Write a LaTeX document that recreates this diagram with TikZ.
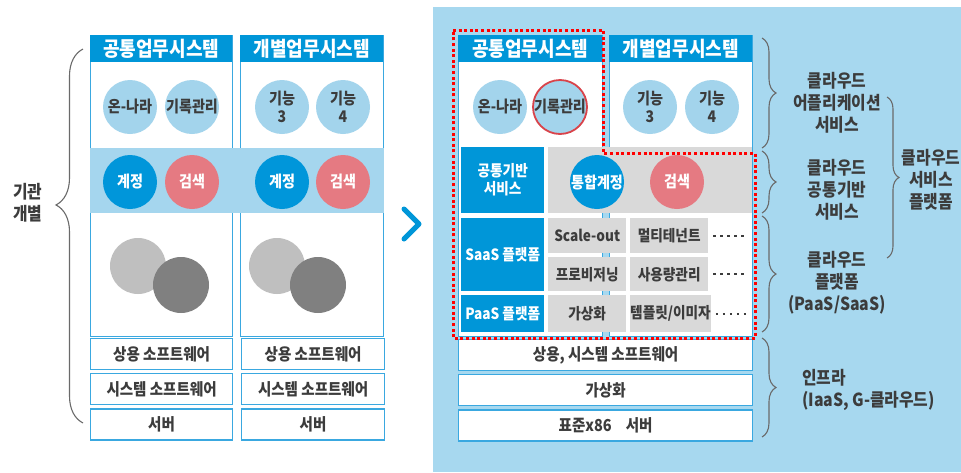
\documentclass[tikz,border=0pt]{standalone}
\usepackage{fontspec}
\setmainfont{Noto Sans CJK KR}[FakeStretch=0.88]
\usepackage{xcolor}
\usepackage{tikz}
\usetikzlibrary{positioning,calc,decorations.pathreplacing}

\definecolor{hdrblue}{HTML}{0096D8}
\definecolor{lineblue}{HTML}{3AA8E0}
\definecolor{paleblue}{HTML}{A5D6EE}
\definecolor{bgblue}{HTML}{A7D8EF}
\definecolor{circblue}{HTML}{A3D4EC}
\definecolor{accblue}{HTML}{0096DA}
\definecolor{pinkred}{HTML}{E57A82}
\definecolor{cellgray}{HTML}{D9D9D9}
\definecolor{txtgray}{HTML}{3C3C3C}
\definecolor{lgray}{HTML}{BFBFBF}
\definecolor{dgray}{HTML}{808080}
\definecolor{bracegray}{HTML}{6A6A6A}
\definecolor{ringred}{HTML}{D9434A}

\newcommand\hdrfont{\bfseries\fontsize{20.5}{22}\selectfont}
\newcommand\cfont{\bfseries\fontsize{16}{18}\selectfont}
\newcommand\rfont{\bfseries\fontsize{16.5}{18}\selectfont}
\newcommand\cellfont{\bfseries\fontsize{15.5}{18}\selectfont}
\newcommand\lblfont{\bfseries\fontsize{18}{22}\selectfont}

\begin{document}
\begin{tikzpicture}[
    x=1pt, y=-1pt,
    node distance=3pt,
    col/.style={rectangle, draw=lineblue, line width=1.2pt, fill=white, anchor=north west, inner sep=0pt, minimum height=301},
    hdr/.style={rectangle, fill=hdrblue, text=white, anchor=north west, inner sep=0pt, minimum height=27, font=\hdrfont},
    func/.style={circle, fill=circblue, minimum size=54, inner sep=0pt, text=txtgray, font=\cfont, align=center},
    acc/.style={func, fill=accblue, text=white},
    srch/.style={func, fill=pinkred, text=white},
    row/.style={rectangle, draw=lineblue, line width=1.2pt, fill=white, anchor=north west, minimum height=31, inner sep=0pt, text=txtgray, font=\rfont},
    bbox/.style={rectangle, fill=hdrblue, text=white, anchor=north west, minimum width=83, inner sep=0pt, font=\cellfont, align=center},
    gcell/.style={rectangle, fill=cellgray, text=txtgray, anchor=north west, minimum width=78, inner sep=0pt, font=\cellfont},
    lbl/.style={text=txtgray, font=\lblfont, align=center, inner sep=0pt},
    brace/.style={decorate, draw=bracegray, line width=1.1pt},
    dotline/.style={draw=txtgray, line width=2.4pt, dash pattern=on 2.4pt off 4.6pt},
    reddot/.style={draw=red, line width=3pt, dash pattern=on 3pt off 2.6pt}
]
    \useasboundingbox (0,0) rectangle (961,472);

    \node[col, minimum width=142] (colA) at (90,35) {};
    \node[col, minimum width=143] (colB) at (240,35) {};
    \node[hdr, minimum width=142] (hdrA) at (90,35) {공통업무시스템};
    \node[hdr, minimum width=143] (hdrB) at (240,35) {개별업무시스템};
    \node[rectangle, fill=paleblue, anchor=north west, inner sep=0pt, minimum width=294, minimum height=65] (bandL) at (90,148) {};

    \node[func] (onnaraA) at (130,107) {온-나라};
    \node[func] (recA) at (192,107) {기록관리};
    \node[func] (fn3A) at (282,107) {기능\\3};
    \node[func] (fn4A) at (343,107) {기능\\4};
    \node[acc] (accA) at (130,182) {계정};
    \node[srch] (srchA) at (192,182) {검색};
    \node[acc] (accB) at (282,182) {계정};
    \node[srch] (srchB) at (343,182) {검색};

    \node[circle, fill=lgray, minimum size=56, inner sep=0pt] (lgA) at (138,266) {};
    \node[circle, fill=dgray, minimum size=56, inner sep=0pt] (dgA) at (181,285) {};
    \node[circle, fill=lgray, minimum size=56, inner sep=0pt] (lgB) at (277,266) {};
    \node[circle, fill=dgray, minimum size=56, inner sep=0pt] (dgB) at (318,285) {};

    \node[row, minimum width=142] (swA) at (90,338) {상용 소프트웨어};
    \node[row, minimum width=142, below=of swA] (sysA) {시스템 소프트웨어};
    \node[row, minimum width=142, below=of sysA] (srvA) {서버};
    \node[row, minimum width=143] (swB) at (241,338) {상용 소프트웨어};
    \node[row, minimum width=143, below=of swB] (sysB) {시스템 소프트웨어};
    \node[row, minimum width=143, below=of sysB] (srvB) {서버};

    \coordinate (orgTop) at (83,49);
    \coordinate (orgBot) at (83,423);
    \draw[brace, decoration={brace, amplitude=27pt, aspect=0.583}] (orgBot) -- (orgTop);
    \node[lbl, font=\bfseries\fontsize{18}{22}\selectfont] (org) at (28,203) {기관\\개별};

    \coordinate (chevTop) at (404,209);
    \coordinate (chevTip) at (419,224);
    \coordinate (chevBot) at (404,239);
    \draw[hdrblue, line width=5pt, line cap=round, line join=round] (chevTop) -- (chevTip) -- (chevBot);

    \node[rectangle, fill=bgblue, anchor=north west, inner sep=0pt, minimum width=528, minimum height=465] (panel) at (433,7) {};

    \node[col, minimum width=144] (colC) at (458,35) {};
    \node[col, minimum width=143] (colD) at (609,35) {};
    \node[hdr, minimum width=144] (hdrC) at (458,35) {공통업무시스템};
    \node[hdr, minimum width=143] (hdrD) at (609,35) {개별업무시스템};

    \node[func] (onnaraC) at (500,107) {온-나라};
    \node[func, draw=ringred, line width=1.8pt] (recC) at (560,107) {기록관리};
    \node[func] (fn3D) at (650,107) {기능\\3};
    \node[func] (fn4D) at (712,107) {기능\\4};

    \node[bbox, minimum height=66] (svc) at (461,147) {공통기반\\서비스};
    \node[bbox, minimum height=73] (saas) at (461,218) {SaaS 플랫폼};
    \node[bbox, minimum height=37] (paas) at (461,295) {PaaS 플랫폼};
    \node[gcell, minimum width=204, minimum height=66] (bandR) at (548,147) {};
    \node[acc] (accC) at (597,182) {통합계정};
    \node[srch] (srchC) at (677,182) {검색};

    \node[gcell, minimum height=35] (scale) at (548,218) {Scale-out};
    \node[gcell, minimum height=35] (multi) at (630,218) {멀티테넌트};
    \node[gcell, minimum height=34] (prov) at (548,257) {프로비저닝};
    \node[gcell, minimum height=34] (usage) at (630,257) {사용량관리};
    \node[gcell, minimum height=37] (virtC) at (548,295) {가상화};
    \node[gcell, minimum height=37] (tmpl) at (630,295) {템플릿/이미자};
    \draw[dotline] ([xshift=5pt]multi.east) -- ++(33,0);
    \draw[dotline] ([xshift=5pt]usage.east) -- ++(33,0);
    \draw[dotline] ([xshift=5pt]tmpl.east) -- ++(33,0);

    \node[row, minimum width=294, minimum height=31] (swR) at (458,339) {상용, 시스템 소프트웨어};
    \node[row, minimum width=294, below=of swR] (virtR) {가상화};
    \node[row, minimum width=294, below=of virtR] (srvR) {표준x86\hspace{14pt}서버};

    \draw[reddot] (453,30) -- (603,30) -- (603,153) -- (755,153) -- (755,338) -- (453,338) -- cycle;

    \coordinate (appTop) at (762,38);
    \coordinate (appBot) at (762,148);
    \coordinate (cmnTop) at (762,151);
    \coordinate (cmnBot) at (762,213);
    \coordinate (pfTop) at (762,216);
    \coordinate (pfBot) at (762,332);
    \coordinate (infTop) at (762,338);
    \coordinate (infBot) at (762,437);
    \coordinate (svcTop) at (887,97);
    \coordinate (svcBot) at (887,258);
    \draw[brace, decoration={brace, amplitude=14pt}] (appTop) -- (appBot);
    \draw[brace, decoration={brace, amplitude=14pt}] (cmnTop) -- (cmnBot);
    \draw[brace, decoration={brace, amplitude=14pt}] (pfTop) -- (pfBot);
    \draw[brace, decoration={brace, amplitude=14pt}] (infTop) -- (infBot);
    \draw[brace, decoration={brace, amplitude=12pt}] (svcTop) -- (svcBot);

    \node[lbl] (appL) at (837,103) {클라우드\\어플리케이션\\서비스};
    \node[lbl] (cmnL) at (837,190) {클라우드\\공통기반\\서비스};
    \node[lbl] (pfL) at (837,283) {클라우드\\플랫폼\\(PaaS/SaaS)};
    \node[lbl, align=left, anchor=west] (infL) at (802,390) {인프라\\(IaaS, G-클라우드)};
    \node[lbl] (svcL) at (931,180) {클라우드\\서비스\\플랫폼};
\end{tikzpicture}
\end{document}
